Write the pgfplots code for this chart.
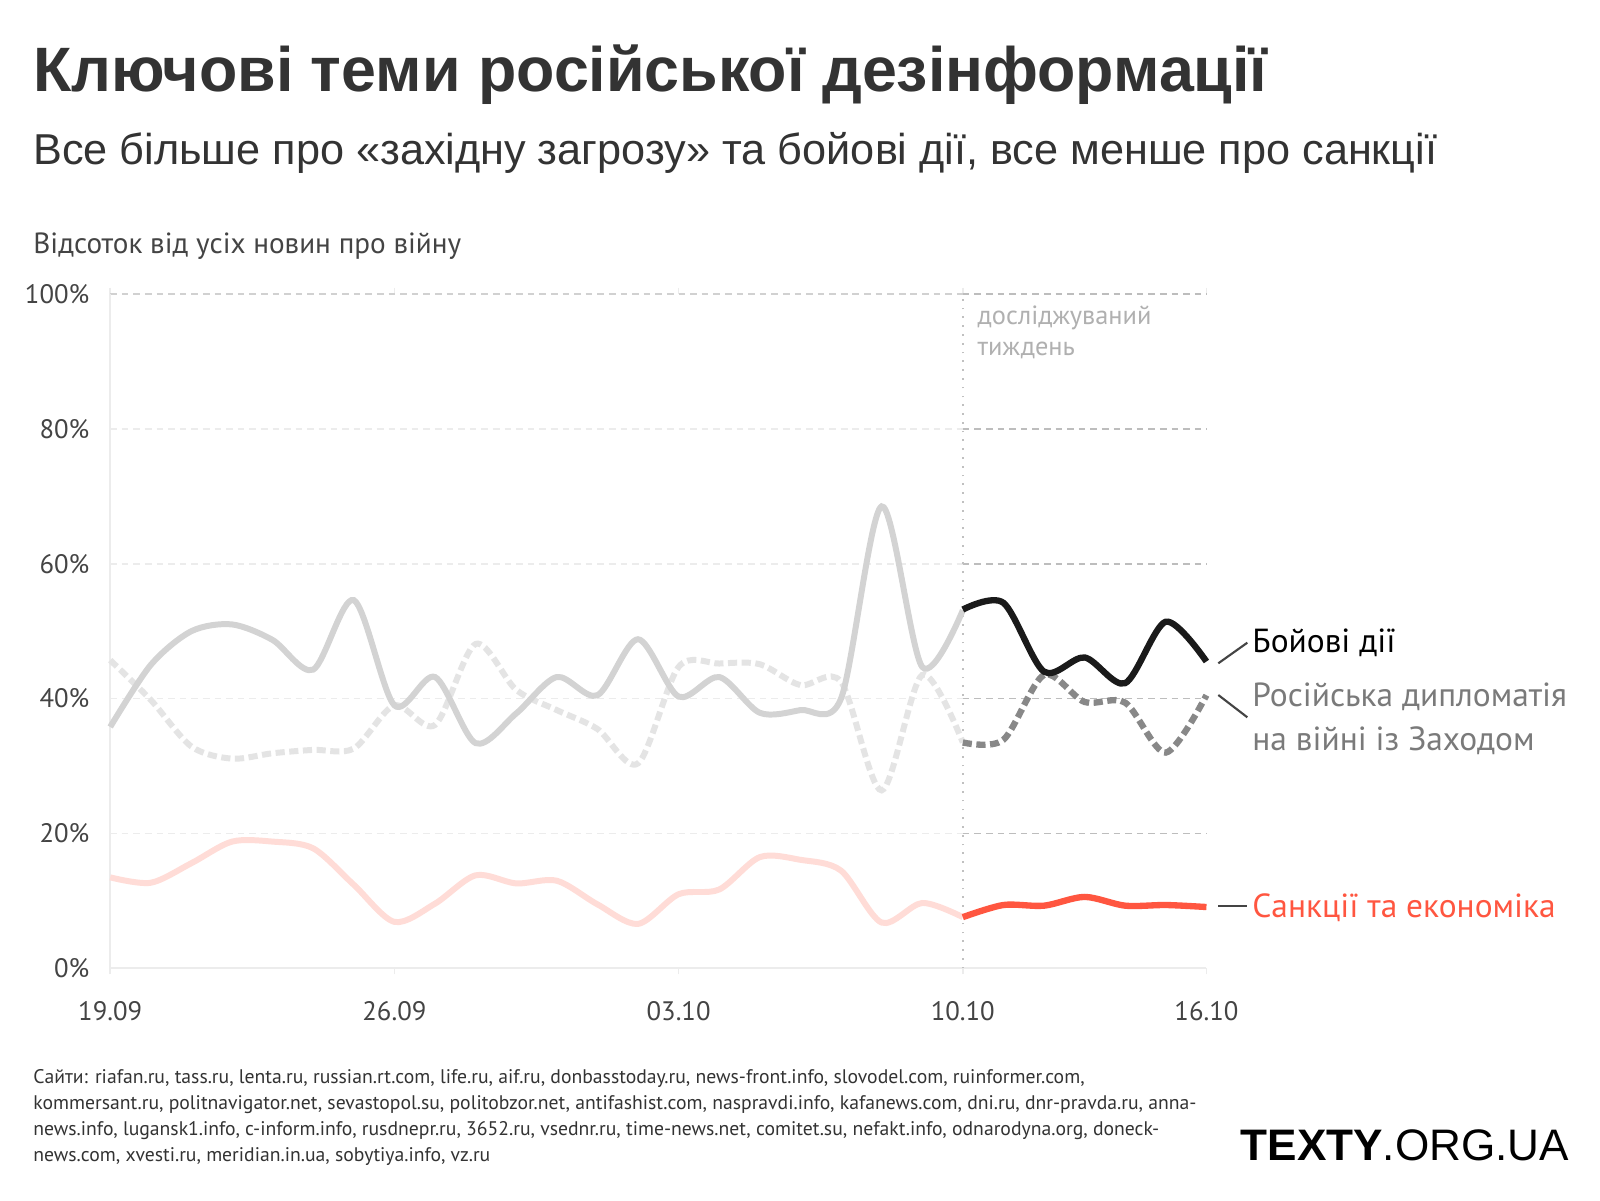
\documentclass[border=0pt]{standalone}
\usepackage{fontspec}
\usepackage{pgfplots}
\pgfplotsset{compat=1.18}
\setmainfont{PT Sans}
\newfontfamily\lib{Liberation Sans}
\definecolor{txt}{HTML}{333333}
\definecolor{tick}{HTML}{444444}
\definecolor{lsolid}{HTML}{D3D3D3}
\definecolor{ldash}{HTML}{E4E4E4}
\definecolor{dsolid}{HTML}{1A1A1A}
\definecolor{ddash}{HTML}{888888}
\definecolor{lred}{HTML}{FFDCD7}
\definecolor{dred}{HTML}{FF5640}
\definecolor{gridl}{HTML}{ECECEC}
\definecolor{gridd}{HTML}{BDBDBD}
\definecolor{week}{HTML}{B0B0B0}
\definecolor{dipl}{HTML}{7A7A7A}
\begin{document}
\begin{tikzpicture}[x=1cm,y=1cm]
\useasboundingbox (0,0) rectangle (16,12);
\clip (0,0) rectangle (16,12);
\fill[white] (0,0) rectangle (16,12);
% titles
\node[anchor=base west, inner sep=0, text=txt] at (0.327,11.08) {\lib\bfseries\fontsize{17.85}{20}\selectfont Ключові теми російської дезінформації};
\node[anchor=base west, inner sep=0, text=txt] at (0.327,10.35) {\lib\fontsize{12.3}{14}\selectfont Все більше про «західну загрозу» та бойові дії, все менше про санкції};
\node[anchor=base west, inner sep=0, text=tick] at (0.327,9.46) {\fontsize{8.3}{10}\selectfont Відсоток від усіх новин про війну};
\begin{axis}[at={(1.102cm,2.316cm)}, anchor=south west, scale only axis,
  width=10.962cm, height=6.745cm, xmin=0, xmax=27, ymin=0, ymax=100, clip=false,
  axis line style={draw=none},
  xtick={0,7,14,21,27}, xticklabels={19.09,26.09,03.10,10.10,16.10},
  ytick={0,20,40,60,80,100}, yticklabels={0\%,20\%,40\%,60\%,80\%,100\%},
  major tick length=0.06cm, tick align=outside,
  xtick style={draw=gridl, line width=0.5pt}, ytick style={draw=none},
  xticklabel style={anchor=center, inner sep=0pt, yshift=-0.37cm, text=tick, font=\fontsize{7.6}{9}\selectfont},
  yticklabel style={anchor=east, inner sep=0pt, xshift=-0.142cm, text=tick, font=\fontsize{7.6}{9}\selectfont},
]
% grid
\draw[gridl, line width=0.5pt, dash pattern=on 1.9pt off 1.4pt] (axis cs:0,20) -- (axis cs:21,20);
\draw[gridl, line width=0.5pt, dash pattern=on 1.9pt off 1.4pt] (axis cs:0,40) -- (axis cs:21,40);
\draw[gridl, line width=0.5pt, dash pattern=on 1.9pt off 1.4pt] (axis cs:0,60) -- (axis cs:21,60);
\draw[gridl, line width=0.5pt, dash pattern=on 1.9pt off 1.4pt] (axis cs:0,80) -- (axis cs:21,80);
\draw[gridd!70, line width=0.5pt, dash pattern=on 1.9pt off 1.4pt] (axis cs:0,100) -- (axis cs:21,100);
\draw[gridd, line width=0.5pt, dash pattern=on 1.9pt off 1.4pt] (axis cs:21,20) -- (axis cs:27,20);
\draw[gridd, line width=0.5pt, dash pattern=on 1.9pt off 1.4pt] (axis cs:21,40) -- (axis cs:27,40);
\draw[gridd, line width=0.5pt, dash pattern=on 1.9pt off 1.4pt] (axis cs:21,60) -- (axis cs:27,60);
\draw[gridd, line width=0.5pt, dash pattern=on 1.9pt off 1.4pt] (axis cs:21,80) -- (axis cs:27,80);
\draw[gridd, line width=0.5pt, dash pattern=on 1.9pt off 1.4pt] (axis cs:21,100) -- (axis cs:27,100);
\draw[gridl, line width=0.6pt] (axis cs:0,0) -- (axis cs:27,0);
\draw[gridl, line width=0.6pt] (axis cs:0,0) -- (axis cs:0,100);
\draw[week!80, line width=0.5pt, dotted] (axis cs:21,0) -- (axis cs:21,100);
% light series
\addplot[lred, line width=1.7pt, smooth, tension=0.5] coordinates {
(0,13.5)(1,12.7)(2,15.6)(3,18.8)(4,18.8)(5,17.8)(6,12.4)(7,6.9)(8,9.6)(9,13.8)(10,12.6)
(11,13.0)(12,9.5)(13,6.6)(14,11.0)(15,11.7)(16,16.5)(17,16.1)(18,14.5)(19,6.8)(20,9.7)(21,7.6)};
\addplot[ldash, line width=1.7pt, smooth, tension=0.5, dash pattern=on 2.6pt off 1.3pt] coordinates {
(0,45.7)(1,39.8)(2,32.9)(3,31.1)(4,31.9)(5,32.4)(6,32.6)(7,39.0)(8,36.1)(9,48.1)(10,41.3)
(11,38.3)(12,35.5)(13,30.4)(14,44.7)(15,45.2)(16,45.1)(17,42.0)(18,42.5)(19,26.4)(20,43.5)(21,33.5)};
\addplot[lsolid, line width=1.7pt, smooth, tension=0.5] coordinates {
(0,35.8)(1,45.0)(2,50.0)(3,51.0)(4,48.7)(5,44.3)(6,54.6)(7,39.0)(8,43.2)(9,33.4)(10,37.8)
(11,43.2)(12,40.5)(13,48.8)(14,40.3)(15,43.2)(16,37.9)(17,38.3)(18,40.0)(19,68.5)(20,44.7)(21,53.1)};
% studied week
\addplot[dred, line width=1.8pt, smooth, tension=0.5] coordinates {
(21,7.6)(22,9.4)(23,9.3)(24,10.6)(25,9.3)(26,9.4)(27,9.1)};
\addplot[ddash, line width=1.8pt, smooth, tension=0.5, dash pattern=on 2.6pt off 1.3pt] coordinates {
(21,33.5)(22,33.9)(23,43.5)(24,39.5)(25,39.4)(26,32.0)(27,40.5)};
\addplot[dsolid, line width=1.8pt, smooth, tension=0.5] coordinates {
(21,53.2)(22,54.2)(23,44.0)(24,46.1)(25,42.3)(26,51.4)(27,45.5)};
\end{axis}
% annotation
\node[anchor=base west, inner sep=0, text=week] at (9.77,8.75) {\fontsize{7.5}{9}\selectfont досліджуваний};
\node[anchor=base west, inner sep=0, text=week] at (9.77,8.45) {\fontsize{7.5}{9}\selectfont тиждень};
% labels
\draw[tick, line width=0.6pt] (12.183,5.367) -- (12.473,5.573);
\draw[tick, line width=0.6pt] (12.183,5.05) -- (12.473,4.827);
\draw[tick, line width=0.6pt] (12.183,2.94) -- (12.473,2.94);
\node[anchor=base west, inner sep=0, text=black] at (12.517,5.473) {\fontsize{9.5}{11}\selectfont Бойові дії};
\node[anchor=base west, inner sep=0, text=dipl] at (12.517,4.933) {\fontsize{9.5}{11}\selectfont Російська дипломатія};
\node[anchor=base west, inner sep=0, text=dipl] at (12.517,4.50) {\fontsize{9.5}{11}\selectfont на війні із Заходом};
\node[anchor=base west, inner sep=0, text=dred] at (12.517,2.83) {\fontsize{9.5}{11}\selectfont Санкції та економіка};
% footer
\node[anchor=base west, inner sep=0, text=txt] at (0.327,1.17) {\fontsize{5.6}{6}\selectfont Сайти: riafan.ru, tass.ru, lenta.ru, russian.rt.com, life.ru, aif.ru, donbasstoday.ru, news-front.info, slovodel.com, ruinformer.com,};
\node[anchor=base west, inner sep=0, text=txt] at (0.327,0.91) {\fontsize{5.6}{6}\selectfont kommersant.ru, politnavigator.net, sevastopol.su, politobzor.net, antifashist.com, naspravdi.info, kafanews.com, dni.ru, dnr-pravda.ru, anna-};
\node[anchor=base west, inner sep=0, text=txt] at (0.327,0.65) {\fontsize{5.6}{6}\selectfont news.info, lugansk1.info, c-inform.info, rusdnepr.ru, 3652.ru, vsednr.ru, time-news.net, comitet.su, nefakt.info, odnarodyna.org, doneck-};
\node[anchor=base west, inner sep=0, text=txt] at (0.327,0.39) {\fontsize{5.6}{6}\selectfont news.com, xvesti.ru, meridian.in.ua, sobytiya.info, vz.ru};
\node[anchor=base west, inner sep=0, text=black] at (12.40,0.40) {\lib\fontsize{12.55}{14}\selectfont\textbf{TEXTY}.ORG.UA};
\end{tikzpicture}
\end{document}
